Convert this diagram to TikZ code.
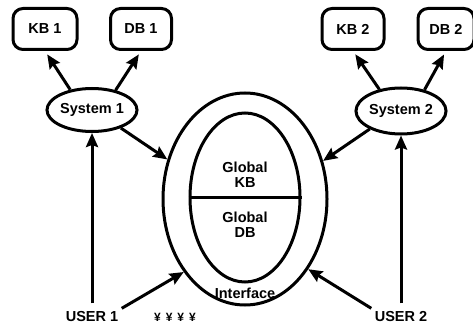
\documentclass[tikz,border=0pt]{standalone}
\usepackage{fontspec}
\setmainfont{Liberation Sans}
\usetikzlibrary{shapes.geometric,arrows.meta}
\begin{document}
\begin{tikzpicture}[x=1pt,y=1pt,
  lw/.style={line width=3pt},
  lbl/.style={font=\bfseries\fontsize{14.5}{15}\selectfont},
  box/.style={lbl,draw,lw,rounded corners=10pt,minimum width=64pt,minimum height=41pt,inner sep=0pt},
  sysnode/.style={lbl,draw,lw,ellipse,minimum width=90pt,minimum height=43pt,inner sep=0pt},
  arr/.style={lw,-{Stealth[length=14pt,width=12pt,inset=2pt]}},
  ]
\useasboundingbox (0,0) rectangle (473,327);
\node[box] (kb1) at (45,298) {KB 1};
\node[box,minimum width=61pt] (db1) at (141,298) {DB 1};
\node[box,minimum width=62pt] (kb2) at (353,298) {KB 2};
\node[box,minimum width=56pt] (db2) at (446,298) {DB 2};
\node[sysnode] (sys1) at (92,217) {System 1};
\node[sysnode,minimum height=46pt] (sys2) at (401,216) {System 2};
\node[draw,lw,ellipse,minimum width=164pt,minimum height=212pt] (outer) at (245,128) {};
\node[draw,lw,ellipse,minimum width=110pt,minimum height=169pt] (inner) at (245,129.5) {};
\draw[lw] (inner.west) -- (inner.east);
\node[lbl,align=center] (gkb) at (245,152) {Global\\KB};
\node[lbl,align=center] (gdb) at (245,102) {Global\\DB};
\node[lbl] (iface) at (245,34) {Interface};
\node[lbl] (user1) at (92,10) {USER 1};
\node[lbl] (user2) at (401,10) {USER 2};
\node[font=\bfseries\fontsize{12}{12}\selectfont] (dots) at (175,10) {¥\hspace{5pt}¥\hspace{5pt}¥\hspace{5pt}¥};
\draw[arr,shorten >=4pt] (sys1.137) -- (kb1.south);
\draw[arr,shorten >=4pt] (sys1.40) -- (db1.south);
\draw[arr,shorten >=4pt] (sys2.135) -- (kb2.south);
\draw[arr,shorten >=4pt] (sys2.42) -- (db2.south);
\draw[arr] (sys1.-32) -- (outer.153);
\draw[arr] (sys2.210) -- (outer.26);
\draw[arr,shorten <=5pt] (user1.north) -- (sys1.south);
\draw[arr,shorten <=5pt] (user2.north) -- (sys2.south);
\draw[arr] (user1.north east) -- (outer.230);
\draw[arr] (user2.north west) -- (outer.-48);
\end{tikzpicture}
\end{document}
